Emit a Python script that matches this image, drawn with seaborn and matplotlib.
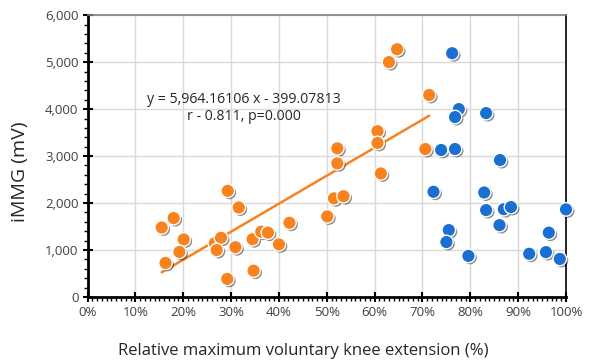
import numpy as np
import pandas as pd
import matplotlib
matplotlib.use("Agg")
import matplotlib.pyplot as plt
import matplotlib.patheffects as pe
from matplotlib.ticker import MultipleLocator, FuncFormatter
import seaborn as sns

# orange group (fitted) - x as fraction of max voluntary knee extension, y in mV
orange_x = [0.155, 0.180, 0.201, 0.192, 0.163, 0.293, 0.316, 0.266, 0.279, 0.270,
            0.309, 0.292, 0.345, 0.363, 0.377, 0.400, 0.422, 0.347, 0.501, 0.515,
            0.522, 0.522, 0.535, 0.606, 0.606, 0.613, 0.630, 0.647, 0.714, 0.706]
orange_y = [1480, 1680, 1225, 960, 725, 2260, 1905, 1145, 1260, 1000,
            1060, 385, 1230, 1390, 1370, 1120, 1580, 560, 1715, 2100,
            2845, 3165, 2145, 3530, 3280, 2630, 5000, 5275, 4300, 3150]

# blue group
blue_x = [0.762, 0.776, 0.768, 0.833, 0.739, 0.768, 0.862, 0.723, 0.829, 0.833,
          0.870, 0.885, 1.000, 0.861, 0.755, 0.750, 0.796, 0.923, 0.958, 0.964, 0.987]
blue_y = [5190, 4000, 3830, 3915, 3130, 3150, 2915, 2240, 2225, 1850,
          1870, 1915, 1865, 1530, 1425, 1170, 875, 920, 955, 1370, 810]

slope = 5964.16106
intercept = -399.07813
eq_text = "y = 5,964.16106 x - 399.07813\nr - 0.811, p=0.000"

ORANGE = "#F7821E"
BLUE = "#1A6FD0"

df = pd.DataFrame({
    "x": orange_x + blue_x,
    "y": orange_y + blue_y,
    "group": ["a"] * len(orange_x) + ["b"] * len(blue_x),
})

sns.set_style("white")
plt.rcParams["font.family"] = ["Open Sans", "DejaVu Sans"]

fig = plt.figure(figsize=(5.89, 3.61), dpi=100)
ax = fig.add_axes([0.1486, 0.1773, 0.8124, 0.7807])

ax.grid(True, color="#D9D9D9", linewidth=1.0)
ax.set_axisbelow(True)

shadow = [pe.SimplePatchShadow(offset=(1.2, -1.2), shadow_rgbFace="#000000", alpha=0.45),
          pe.Normal()]

sns.scatterplot(data=df, x="x", y="y", hue="group",
                palette={"a": ORANGE, "b": BLUE}, s=95,
                edgecolor="white", linewidth=1.0, legend=False, ax=ax, zorder=3)
for coll in ax.collections:
    coll.set_path_effects(shadow)
    coll.set_clip_on(False)

# trend line over the orange range
xl = np.array([min(orange_x), max(orange_x)])
sns.lineplot(x=xl, y=slope * xl + intercept, color=ORANGE, linewidth=1.8, ax=ax, zorder=2)

ax.text(0.327, 4020, eq_text, ha="center", va="center", fontsize=10.2,
        color="#262626", linespacing=1.2, zorder=4)

ax.set_xlim(0, 1.0)
ax.set_ylim(0, 6000)
ax.xaxis.set_major_locator(MultipleLocator(0.1))
ax.xaxis.set_minor_locator(MultipleLocator(0.01))
ax.yaxis.set_major_locator(MultipleLocator(1000))
ax.yaxis.set_minor_locator(MultipleLocator(200))
ax.xaxis.set_major_formatter(FuncFormatter(lambda v, p: f"{v * 100:.0f}%"))
ax.yaxis.set_major_formatter(FuncFormatter(lambda v, p: f"{v:,.0f}"))

ax.tick_params(axis="both", which="major", direction="inout", length=7, width=1.5,
               labelsize=9.5, labelcolor="#404040", color="black", pad=3)
ax.tick_params(axis="both", which="minor", direction="out", length=3, width=1.0, color="black")
ax.tick_params(axis="x", which="both", top=False, bottom=True)
ax.tick_params(axis="y", which="both", right=False, left=True)

for side in ["left", "bottom"]:
    ax.spines[side].set_color("black")
    ax.spines[side].set_linewidth(2.0)
ax.spines["right"].set_color("black")
ax.spines["right"].set_linewidth(1.2)
ax.spines["top"].set_color("#808080")
ax.spines["top"].set_linewidth(1.2)

ax.set_xlabel("Relative maximum voluntary knee extension (%)", fontsize=12,
              color="#262626", va="center")
ax.xaxis.set_label_coords(0.451, -0.19)
ax.set_ylabel("iMMG (mV)", fontsize=14, color="#262626", va="center")
ax.yaxis.set_label_coords(-0.141, 0.445)

fig.savefig("out.png", dpi=100)
